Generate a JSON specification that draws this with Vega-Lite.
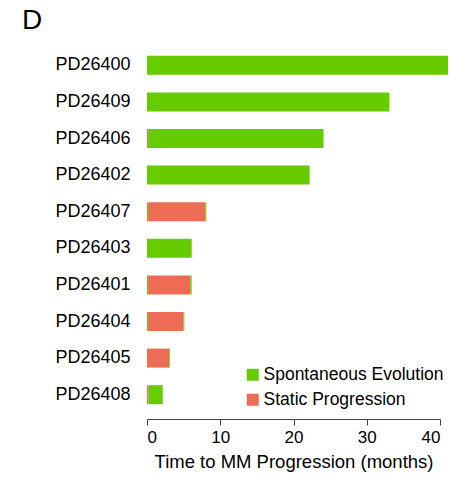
{
  "$schema": "https://vega.github.io/schema/vega-lite/v6.json",
  "autosize": {"type": "none"},
  "width": 293,
  "height": 366,
  "padding": {"left": 147, "top": 47, "right": 10, "bottom": 68},
  "background": "white",
  "config": {"view": {"stroke": null}},
  "title": {
    "text": "D",
    "anchor": "start",
    "frame": "group",
    "dx": -125,
    "offset": 12,
    "fontSize": 28,
    "fontWeight": "normal",
    "font": "Liberation Sans",
    "color": "#000"
  },
  "data": {
    "values": [
      {"sample": "PD26400", "start": 0, "end": 41.1, "type": "Spontaneous Evolution"},
      {"sample": "PD26409", "start": 0, "end": 33.1, "type": "Spontaneous Evolution"},
      {"sample": "PD26406", "start": 0, "end": 0.15, "type": "Static Progression"},
      {"sample": "PD26406", "start": 0.15, "end": 24.1, "type": "Spontaneous Evolution"},
      {"sample": "PD26402", "start": 0, "end": 22.2, "type": "Spontaneous Evolution"},
      {"sample": "PD26407", "start": 0, "end": 0.15, "type": "Spontaneous Evolution"},
      {"sample": "PD26407", "start": 0.15, "end": 7.95, "type": "Static Progression"},
      {"sample": "PD26407", "start": 7.95, "end": 8.1, "type": "Spontaneous Evolution"},
      {"sample": "PD26403", "start": 0, "end": 6.1, "type": "Spontaneous Evolution"},
      {"sample": "PD26401", "start": 0, "end": 0.15, "type": "Spontaneous Evolution"},
      {"sample": "PD26401", "start": 0.15, "end": 5.9, "type": "Static Progression"},
      {"sample": "PD26401", "start": 5.9, "end": 6.1, "type": "Spontaneous Evolution"},
      {"sample": "PD26404", "start": 0, "end": 0.15, "type": "Spontaneous Evolution"},
      {"sample": "PD26404", "start": 0.15, "end": 5.0, "type": "Static Progression"},
      {"sample": "PD26404", "start": 5.0, "end": 5.1, "type": "Spontaneous Evolution"},
      {"sample": "PD26405", "start": 0, "end": 3.05, "type": "Static Progression"},
      {"sample": "PD26405", "start": 3.05, "end": 3.15, "type": "Spontaneous Evolution"},
      {"sample": "PD26408", "start": 0, "end": 0.2, "type": "Static Progression"},
      {"sample": "PD26408", "start": 0.2, "end": 2.15, "type": "Spontaneous Evolution"}
    ]
  },
  "mark": {"type": "bar", "size": 19, "clip": false},
  "encoding": {
    "y": {
      "field": "sample",
      "type": "nominal",
      "sort": ["PD26400", "PD26409", "PD26406", "PD26402", "PD26407", "PD26403", "PD26401", "PD26404", "PD26405", "PD26408"],
      "scale": {"paddingInner": 0.48, "paddingOuter": 0.24},
      "axis": {
        "title": null,
        "domain": false,
        "ticks": false,
        "labelPadding": 17,
        "labelFontSize": 18,
        "labelFont": "Liberation Sans",
        "labelColor": "#000"
      }
    },
    "x": {
      "field": "start",
      "type": "quantitative",
      "scale": {"domain": [0, 40], "nice": false},
      "axis": {
        "title": "Time to MM Progression (months)",
        "values": [0, 10, 20, 30, 40],
        "grid": false,
        "offset": 6,
        "domainColor": "#444",
        "tickColor": "#444",
        "tickSize": 6,
        "labelFontSize": 17,
        "labelFont": "Liberation Sans",
        "labelColor": "#000",
        "labelPadding": 4,
        "titleFontSize": 18.5,
        "titleFont": "Liberation Sans",
        "titleFontWeight": "normal",
        "titleColor": "#000",
        "titlePadding": 7
      }
    },
    "x2": {"field": "end"},
    "color": {
      "field": "type",
      "type": "nominal",
      "scale": {
        "domain": ["Spontaneous Evolution", "Static Progression"],
        "range": ["#66CC00", "#EE6C55"]
      },
      "legend": {
        "title": null,
        "orient": "none",
        "legendX": 97,
        "legendY": 319,
        "symbolType": "square",
        "symbolSize": 144,
        "symbolStrokeWidth": 0,
        "labelFontSize": 17.5,
        "labelFont": "Liberation Sans",
        "labelColor": "#000",
        "labelOffset": 2,
        "labelLimit": 0,
        "rowPadding": 6
      }
    }
  }
}
